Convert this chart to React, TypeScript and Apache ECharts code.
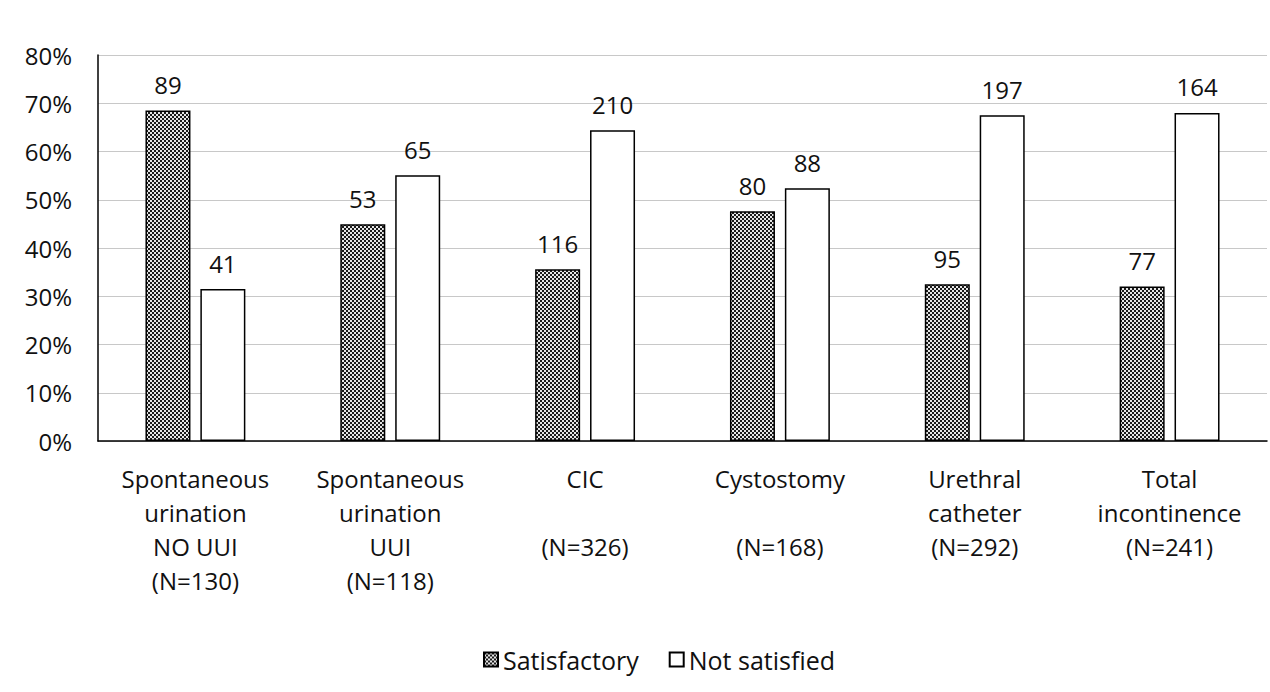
import React, { useEffect, useRef } from "react";
import * as echarts from "echarts";

const categories = [
  "Spontaneous\nurination\nNO UUI\n(N=130)",
  "Spontaneous\nurination\nUUI\n(N=118)",
  "CIC\n\n(N=326)",
  "Cystostomy\n\n(N=168)",
  "Urethral\ncatheter\n(N=292)",
  "Total\nincontinence\n(N=241)",
];
const satisfactoryPct = [68.5, 44.9, 35.6, 47.6, 32.5, 32.0];
const notSatisfiedPct = [31.5, 55.1, 64.4, 52.4, 67.5, 68.0];
const satisfactoryN = [89, 53, 116, 80, 95, 77];
const notSatisfiedN = [41, 65, 210, 88, 197, 164];
const yTicks = [0, 10, 20, 30, 40, 50, 60, 70, 80];

function makePattern(): string {
  const c = document.createElement("canvas");
  c.width = 4;
  c.height = 4;
  const ctx = c.getContext("2d")!;
  ctx.fillStyle = "#e6e6e6";
  ctx.fillRect(0, 0, 4, 4);
  ctx.fillStyle = "#1a1a1a";
  ctx.fillRect(0, 0, 2, 2);
  ctx.fillRect(2, 2, 2, 2);
  return c.toDataURL();
}

export default function App() {
  const ref = useRef<HTMLDivElement>(null);
  useEffect(() => {
    document.body.style.margin = "0";
    const chart = echarts.init(ref.current!, null, { renderer: "svg" });
    const font = "Open Sans";
    const pattern = { image: makePattern(), repeat: "repeat" } as any;
    chart.setOption({
      animation: false,
      textStyle: { fontFamily: font },
      grid: { left: 98, right: 3, top: 55, bottom: 251, containLabel: false },
      legend: {
        bottom: 15,
        left: 478,
        itemWidth: 14,
        itemHeight: 14,
        itemGap: 30,
        textStyle: { fontFamily: font, fontSize: 25, color: "#111" },
        data: [
          { name: "Satisfactory", icon: "rect" },
          { name: "Not satisfied", icon: "rect" },
        ],
      },
      xAxis: {
        type: "category",
        data: categories,
        axisLine: { lineStyle: { color: "#000", width: 1.5 } },
        axisTick: { show: false },
        axisLabel: {
          interval: 0,
          margin: 20,
          fontFamily: font,
          fontSize: 24,
          lineHeight: 34,
          color: "#111",
        },
      },
      yAxis: {
        type: "value",
        min: 0,
        max: 80,
        interval: 10,
        axisLine: { show: true, lineStyle: { color: "#000", width: 1.5 } },
        axisTick: { show: false },
        splitLine: { lineStyle: { color: "#c8c8c8", width: 1 } },
        axisLabel: {
          margin: 26,
          fontFamily: font,
          fontSize: 24,
          color: "#111",
          formatter: (v: number) => (yTicks.includes(v) ? v + "%" : ""),
        },
      },
      series: [
        {
          name: "Satisfactory",
          type: "bar",
          barWidth: 45,
          barGap: "22%",
          data: satisfactoryPct,
          itemStyle: { color: pattern, borderColor: "#000", borderWidth: 1.5 },
          label: {
            show: true,
            position: "top",
            distance: 14,
            fontFamily: font,
            fontSize: 24,
            color: "#111",
            formatter: (p: any) => String(satisfactoryN[p.dataIndex]),
          },
        },
        {
          name: "Not satisfied",
          type: "bar",
          barWidth: 45,
          data: notSatisfiedPct,
          itemStyle: { color: "#fff", borderColor: "#000", borderWidth: 1.5 },
          label: {
            show: true,
            position: "top",
            distance: 14,
            fontFamily: font,
            fontSize: 24,
            color: "#111",
            formatter: (p: any) => String(notSatisfiedN[p.dataIndex]),
          },
        },
      ],
    });
    return () => chart.dispose();
  }, []);
  return <div ref={ref} style={{ width: 1270, height: 692 }} />;
}
